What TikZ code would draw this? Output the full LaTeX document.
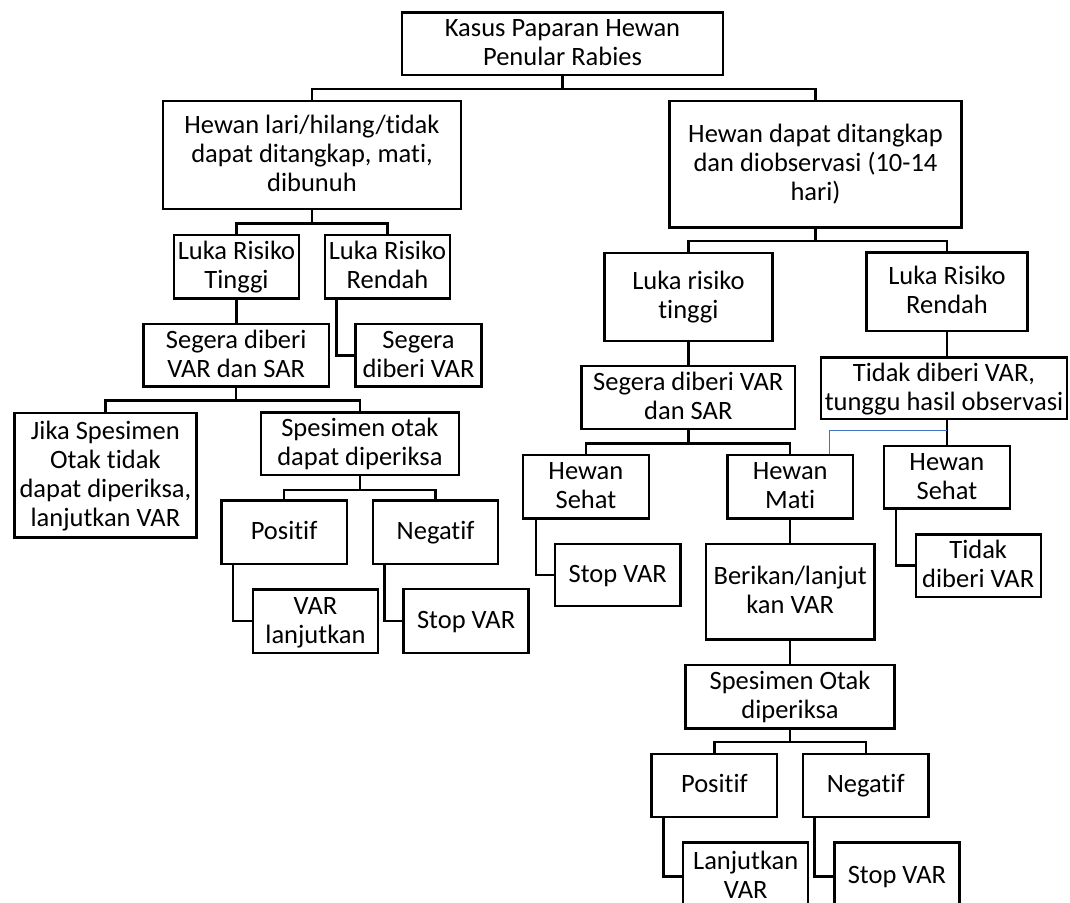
\documentclass[tikz,border=0pt]{standalone}
\usepackage{fontspec}
\setmainfont[RawFeature={-liga}]{Carlito}
\definecolor{linkblue}{RGB}{68,114,196}
\newcommand\bst{\rule[-7pt]{0pt}{29pt}}
\begin{document}
\begin{tikzpicture}[x=1pt,y=-1pt,
  box/.style={draw=black,line width=2.4pt,fill=white,inner sep=0pt,align=center,
    font=\fontsize{26.5}{29}\selectfont},
  link/.style={draw=black,line width=2.4pt},
  bluelink/.style={draw=linkblue,line width=1pt}]
\useasboundingbox (0,0) rectangle (1070,902);
\clip (0,0) rectangle (1070,902);
\path
 (562.5,43.7) node[box,minimum width=321pt,minimum height=62.7pt] (root) {\bst Kasus Paparan Hewan\\Penular Rabies\bst}
 (312,155) node[box,minimum width=298pt,minimum height=108pt] (lbig) {\bst Hewan lari/hilang/tidak\\dapat ditangkap, mati,\\dibunuh\bst}
 (815.5,164) node[box,minimum width=292pt,minimum height=126.6pt] (rbig) {\bst Hewan dapat ditangkap\\dan diobservasi (10-14\\hari)\bst}
 (236.5,266.7) node[box,minimum width=125pt,minimum height=63.3pt] (lt) {\bst Luka Risiko\\Tinggi\bst}
 (387.5,266.7) node[box,minimum width=125pt,minimum height=63.3pt] (lr) {\bst Luka Risiko\\Rendah\bst}
 (236.2,355.3) node[box,minimum width=185.3pt,minimum height=62.7pt] (lsegera) {\bst Segera diberi\\VAR dan SAR\bst}
 (418.5,355.3) node[box,minimum width=125.7pt,minimum height=62.7pt] (lsegvar) {\bst Segera\\diberi VAR\bst}
 (105.4,475) node[box,minimum width=181.8pt,minimum height=124.6pt] (jika) {\bst Jika Spesimen\\Otak tidak\\dapat diperiksa,\\lanjutkan VAR\bst}
 (359.9,443.8) node[box,minimum width=198.3pt,minimum height=62.3pt] (lspes) {\bst Spesimen otak\\dapat diperiksa\bst}
 (284.1,532.3) node[box,minimum width=125.4pt,minimum height=63.3pt] (lpos) {\bst Positif\bst}
 (435.6,532.3) node[box,minimum width=125.3pt,minimum height=63.3pt] (lneg) {\bst Negatif\bst}
 (315.5,621) node[box,minimum width=125pt,minimum height=63.4pt] (lvar) {\bst VAR\\lanjutkan\bst}
 (466.1,621) node[box,minimum width=125pt,minimum height=64pt] (lstop) {\bst Stop VAR\bst}
 (688.4,296.7) node[box,minimum width=168pt,minimum height=88pt] (rt) {\bst Luka risiko\\tinggi\bst}
 (947,291.8) node[box,minimum width=161.2pt,minimum height=78.3pt] (rr) {\bst Luka Risiko\\Rendah\bst}
 (688.3,397.5) node[box,minimum width=213.9pt,minimum height=63pt] (rsegera) {\bst Segera diberi VAR\\dan SAR\bst}
 (944,388.2) node[box,minimum width=246pt,minimum height=61.7pt] (tidak) {\bst Tidak diberi VAR,\\tunggu hasil observasi\bst}
 (585.9,486.7) node[box,minimum width=125.8pt,minimum height=63.3pt] (hsehat) {\bst Hewan\\Sehat\bst}
 (790.2,486.7) node[box,minimum width=125.7pt,minimum height=63.3pt] (hmati) {\bst Hewan\\Mati\bst}
 (946.9,477) node[box,minimum width=125.7pt,minimum height=62.6pt] (hsehatR) {\bst Hewan\\Sehat\bst}
 (617.7,574.9) node[box,minimum width=125.7pt,minimum height=62.3pt] (mstop) {\bst Stop VAR\bst}
 (790.2,591.7) node[box,minimum width=168.4pt,minimum height=95.3pt] (berikan) {\bst Berikan/lanjut\\kan VAR\bst}
 (978.2,565.5) node[box,minimum width=125pt,minimum height=62.4pt] (tidak2) {\bst Tidak\\diberi VAR\bst}
 (790,696.7) node[box,minimum width=208.7pt,minimum height=63.3pt] (rspes) {\bst Spesimen Otak\\diperiksa\bst}
 (714.4,785.4) node[box,minimum width=125.6pt,minimum height=62.7pt] (rpos) {\bst Positif\bst}
 (865.7,785.4) node[box,minimum width=125.4pt,minimum height=62.7pt] (rneg) {\bst Negatif\bst}
 (745.7,876.3) node[box,minimum width=125pt,minimum height=68pt] (rlanj) {\bst Lanjutkan\\VAR\bst}
 (896.9,876.3) node[box,minimum width=125pt,minimum height=68pt] (rstop) {\bst Stop VAR\bst};
% tree connectors
\draw[link] (root.south) -- ++(0,13) -| (lbig.north);
\draw[link] (root.south) -- ++(0,13) -| (rbig.north);
\draw[link] (lbig.south) -- ++(0,13.3) -| (lt.north);
\draw[link] (lbig.south) -- ++(0,13.3) -| (lr.north);
\draw[link] (lt.south) -- (lt.south |- lsegera.north);
\draw[link] ([xshift=12.5pt]lr.south west) |- (lsegvar.west);
\draw[link] (lsegera.south) -- ++(0,12.6) -| (jika.north);
\draw[link] (lsegera.south) -- ++(0,12.6) -| (lspes.north);
\draw[link] (lspes.south) -- ++(0,14) -| (lpos.north);
\draw[link] (lspes.south) -- ++(0,14) -| (lneg.north);
\draw[link] ([xshift=13pt]lpos.south west) |- (lvar.west);
\draw[link] ([xshift=12.7pt]lneg.south west) |- (lstop.west);
\draw[link] (rbig.south) -- ++(0,12.7) -| (rt.north);
\draw[link] (rbig.south) -- ++(0,12.7) -| (rr.north);
\draw[link] (rt.south) -- (rt.south |- rsegera.north);
\draw[link] (rsegera.south) -- ++(0,13.3) -| (hsehat.north);
\draw[link] (rsegera.south) -- ++(0,13.3) -| (hmati.north);
\draw[link] ([xshift=14pt]hsehat.south west) |- (mstop.west);
\draw[link] (hmati.south) -- (hmati.south |- berikan.north);
\draw[link] (berikan.south) -- (berikan.south |- rspes.north);
\draw[link] (rspes.south) -- ++(0,12.7) -| (rpos.north);
\draw[link] (rspes.south) -- ++(0,12.7) -| (rneg.north);
\draw[link] ([xshift=13pt]rpos.south west) |- (rlanj.west);
\draw[link] ([xshift=12.8pt]rneg.south west) |- (rstop.west);
\draw[link] (rr.south) -- (rr.south |- tidak.north);
\draw[link] (tidak.south -| hsehatR.north) -- (hsehatR.north);
\draw[link] ([xshift=13.4pt]hsehatR.south west) |- (tidak2.west);
\draw[bluelink] (tidak.south -| hsehatR.north) ++(0,10) -| ([xshift=-25pt]hmati.north east);
\end{tikzpicture}
\end{document}
